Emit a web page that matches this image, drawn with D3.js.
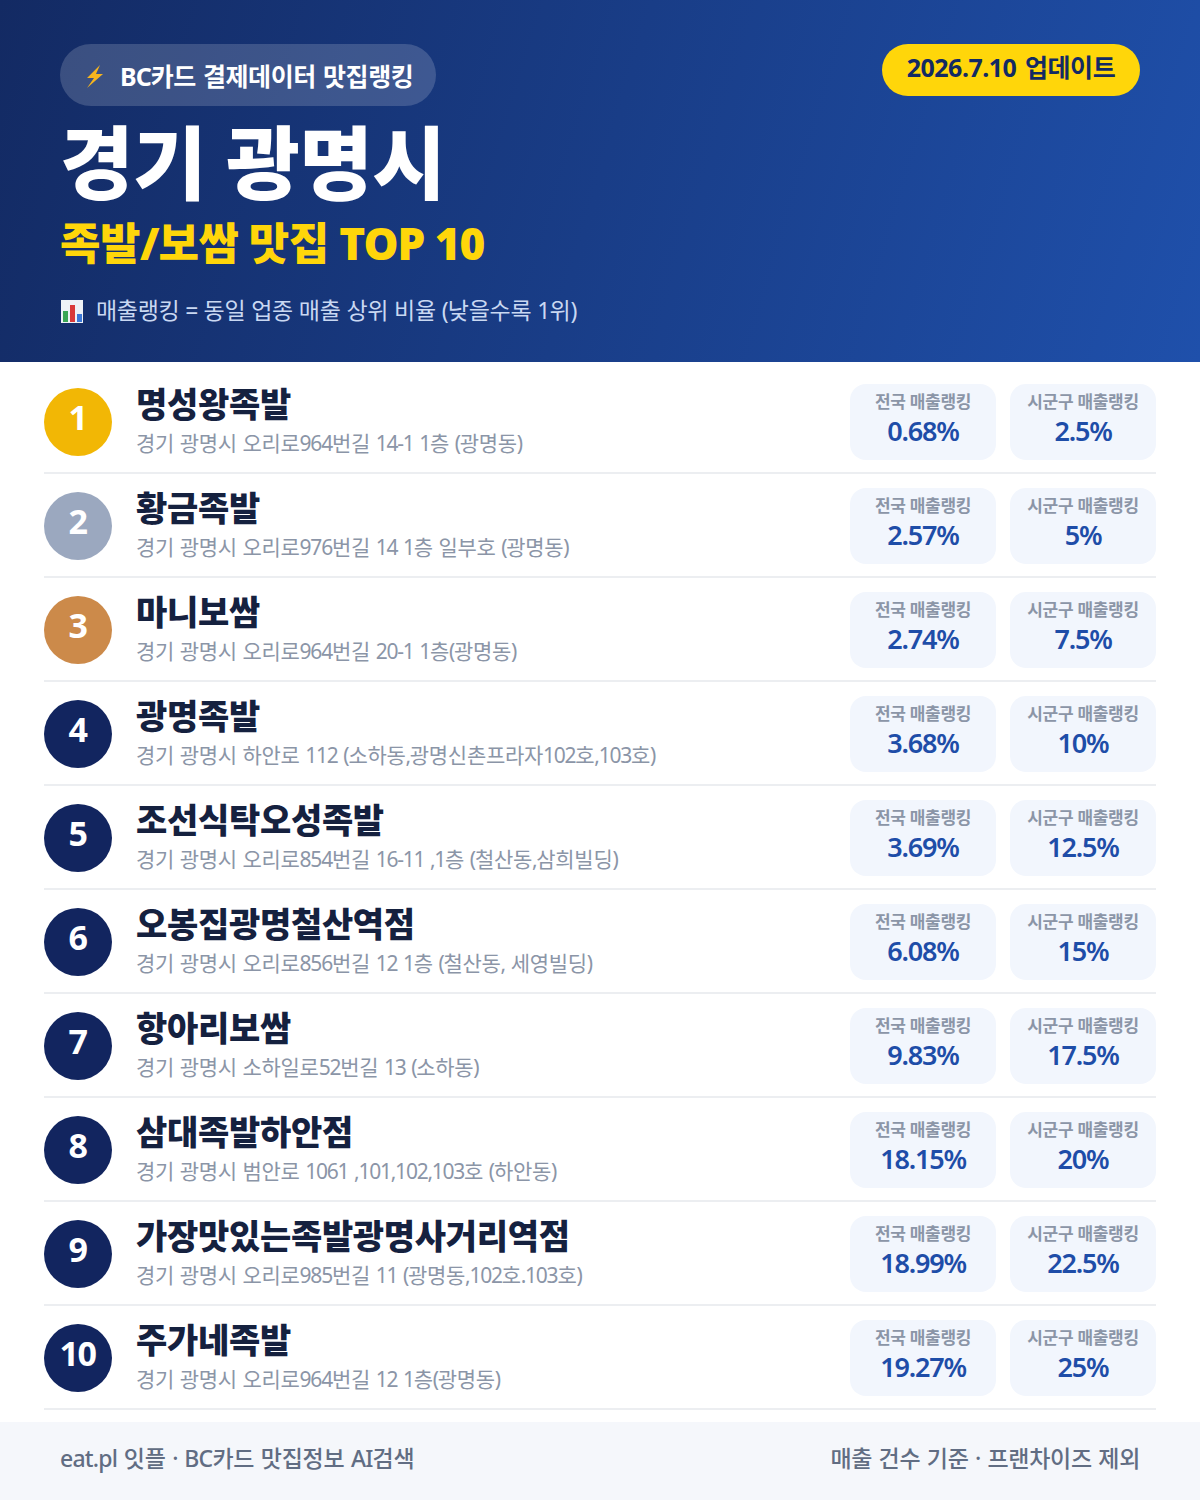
<!DOCTYPE html>
<html lang="ko">
<head>
<meta charset="UTF-8"/>
<title>경기 광명시 족발/보쌈 맛집 TOP 10</title>
<script src="https://cdn.jsdelivr.net/npm/d3@7"></script>
<style>
    html, body { margin: 0; padding: 0; background: #fff; }
    svg { display: block; }
    text { font-family: "Noto Sans", "Noto Sans CJK KR", sans-serif; }
</style>
</head>
<body>
<div id="chart"></div>
<script>
    const ranks = [1, 2, 3, 4, 5, 6, 7, 8, 9, 10];
    const names = ["명성왕족발", "황금족발", "마니보쌈", "광명족발", "조선식탁오성족발",
        "오봉집광명철산역점", "항아리보쌈", "삼대족발하안점", "가장맛있는족발광명사거리역점", "주가네족발"];
    const addresses = [
        "경기 광명시 오리로964번길 14-1 1층 (광명동)",
        "경기 광명시 오리로976번길 14 1층 일부호 (광명동)",
        "경기 광명시 오리로964번길 20-1 1층(광명동)",
        "경기 광명시 하안로 112 (소하동,광명신촌프라자102호,103호)",
        "경기 광명시 오리로854번길 16-11 ,1층 (철산동,삼희빌딩)",
        "경기 광명시 오리로856번길 12 1층 (철산동, 세영빌딩)",
        "경기 광명시 소하일로52번길 13 (소하동)",
        "경기 광명시 범안로 1061 ,101,102,103호 (하안동)",
        "경기 광명시 오리로985번길 11 (광명동,102호.103호)",
        "경기 광명시 오리로964번길 12 1층(광명동)"
    ];
    const nationalPct = [0.68, 2.57, 2.74, 3.68, 3.69, 6.08, 9.83, 18.15, 18.99, 19.27];
    const districtPct = [2.5, 5, 7.5, 10, 12.5, 15, 17.5, 20, 22.5, 25];
    const medalColors = ["#f2b705", "#9ba8bf", "#cc8a4a"];

    const svg = d3.select("#chart").append("svg").attr("width", 1200).attr("height", 1500);

    // latin runs are tracked tighter than hangul
    function addRuns(el, str, hangulSpacing, latinSpacing, wordSpacing) {
        el.attr("word-spacing", wordSpacing);
        (str.match(/[\uAC00-\uD7A3]+|[^\uAC00-\uD7A3]+/g) || []).forEach(function(run) {
            el.append("tspan")
                .attr("letter-spacing", /[\uAC00-\uD7A3]/.test(run) ? hangulSpacing : latinSpacing)
                .text(run);
        });
    }

    // header background
    const grad = svg.append("defs").append("linearGradient")
        .attr("id", "headerGrad")
        .attr("gradientUnits", "userSpaceOnUse")
        .attr("x1", 0).attr("y1", 0).attr("x2", 1200).attr("y2", 362);
    grad.append("stop").attr("offset", "0%").attr("stop-color", "#132a63");
    grad.append("stop").attr("offset", "100%").attr("stop-color", "#1f50ab");
    svg.append("rect").attr("width", 1200).attr("height", 362).attr("fill", "url(#headerGrad)");

    // badge
    svg.append("rect").attr("x", 60).attr("y", 44).attr("width", 376).attr("height", 62).attr("rx", 31)
        .attr("fill", "#fff").attr("fill-opacity", 0.17);
    svg.append("path").attr("d", "M100 65 L87 78 L94 78 L87 88 L103 74 L96 74 Z").attr("fill", "#f6b51e");
    addRuns(svg.append("text").attr("x", 120).attr("y", 86).attr("font-size", 25).attr("font-weight", 700)
        .attr("fill", "#fff"), "BC카드 결제데이터 맛집랭킹", -0.4, -1, 1.5);

    // date pill
    svg.append("rect").attr("x", 882).attr("y", 44).attr("width", 258).attr("height", 52).attr("rx", 26).attr("fill", "#ffd60a");
    addRuns(svg.append("text").attr("x", 1011).attr("y", 77).attr("text-anchor", "middle").attr("font-size", 25)
        .attr("font-weight", 700).attr("fill", "#132a63"), "2026.7.10 업데이트", -0.4, -0.5, 2.5);

    // titles
    svg.append("text").attr("x", 60).attr("y", 193).attr("font-size", 80).attr("font-weight", 900)
        .attr("letter-spacing", -0.6).attr("fill", "#fff").text("경기 광명시");
    addRuns(svg.append("text").attr("x", 60).attr("y", 260).attr("font-size", 44).attr("font-weight", 900)
        .attr("fill", "#ffd60a"), "족발/보쌈 맛집 TOP 10", -0.5, -1, 0);

    // small chart icon
    const iconBars = [{x: 63, h: 11, c: "#3aa655"}, {x: 70, h: 17, c: "#d93a3a"}, {x: 77, h: 8, c: "#3b78d8"}];
    svg.append("rect").attr("x", 61).attr("y", 300).attr("width", 22).attr("height", 23).attr("fill", "#eef2f7");
    svg.selectAll("rect.iconBar").data(iconBars).join("rect").attr("class", "iconBar")
        .attr("x", d => d.x).attr("y", d => 322 - d.h).attr("width", 5).attr("height", d => d.h).attr("fill", d => d.c);
    addRuns(svg.append("text").attr("x", 96).attr("y", 319).attr("font-size", 23).attr("font-weight", 400)
        .attr("fill", "#c9d8f2"), "매출랭킹 = 동일 업종 매출 상위 비율 (낮을수록 1위)", -0.3, -0.8, 0.7);

    // rows
    const y = d3.scaleBand().domain(ranks).range([370, 1410]);
    const rows = svg.selectAll("g.row").data(ranks).join("g").attr("class", "row")
        .attr("transform", d => "translate(0," + y(d) + ")");

    rows.append("rect").attr("x", 44).attr("y", 102).attr("width", 1112).attr("height", 2).attr("fill", "#eceef1");
    rows.append("circle").attr("cx", 78).attr("cy", 52).attr("r", 34)
        .attr("fill", (d, i) => medalColors[i] || "#12255f");
    rows.append("text").attr("x", 77.5).attr("y", 60).attr("text-anchor", "middle").attr("font-size", 34)
        .attr("font-weight", 700).attr("letter-spacing", -1.5).attr("fill", "#fff").text(d => d);
    rows.append("text").attr("x", 136).attr("y", 47).attr("font-size", 34).attr("font-weight", 900)
        .attr("letter-spacing", -0.3).attr("fill", "#15213f").text((d, i) => names[i]);
    rows.append("text").attr("x", 136).attr("y", 81).attr("font-size", 21).attr("font-weight", 400)
        .attr("fill", "#8b95a7")
        .each(function(d, i) { addRuns(d3.select(this), addresses[i], -0.3, -1.25, 1.5); });

    // stat cards
    const cards = [
        {x: 850, label: "전국 매출랭킹", values: nationalPct},
        {x: 1010, label: "시군구 매출랭킹", values: districtPct}
    ];
    cards.forEach(function(c) {
        rows.append("rect").attr("x", c.x).attr("y", 14).attr("width", 146).attr("height", 76).attr("rx", 16).attr("fill", "#f2f6fd");
        rows.append("text").attr("x", c.x + 73).attr("y", 37.5).attr("text-anchor", "middle").attr("font-size", 17)
            .attr("font-weight", 700).attr("letter-spacing", -0.3).attr("fill", "#8b95a7").text(c.label);
        rows.append("text").attr("x", c.x + 73).attr("y", 71).attr("text-anchor", "middle").attr("font-size", 27)
            .attr("font-weight", 600).attr("letter-spacing", -1.2).attr("fill", "#1e4da8").text((d, i) => c.values[i] + "%");
    });

    // footer
    svg.append("rect").attr("y", 1422).attr("width", 1200).attr("height", 78).attr("fill", "#f5f7fb");
    addRuns(svg.append("text").attr("x", 60).attr("y", 1467).attr("font-size", 23).attr("font-weight", 500)
        .attr("fill", "#616d83"), "eat.pl 잇플 · BC카드 맛집정보 AI검색", -0.3, -0.8, 1.5);
    addRuns(svg.append("text").attr("x", 1140).attr("y", 1467).attr("text-anchor", "end").attr("font-size", 23).attr("font-weight", 500)
        .attr("fill", "#616d83"), "매출 건수 기준 · 프랜차이즈 제외", -0.3, -0.3, 0.8);
</script>
</body>
</html>
